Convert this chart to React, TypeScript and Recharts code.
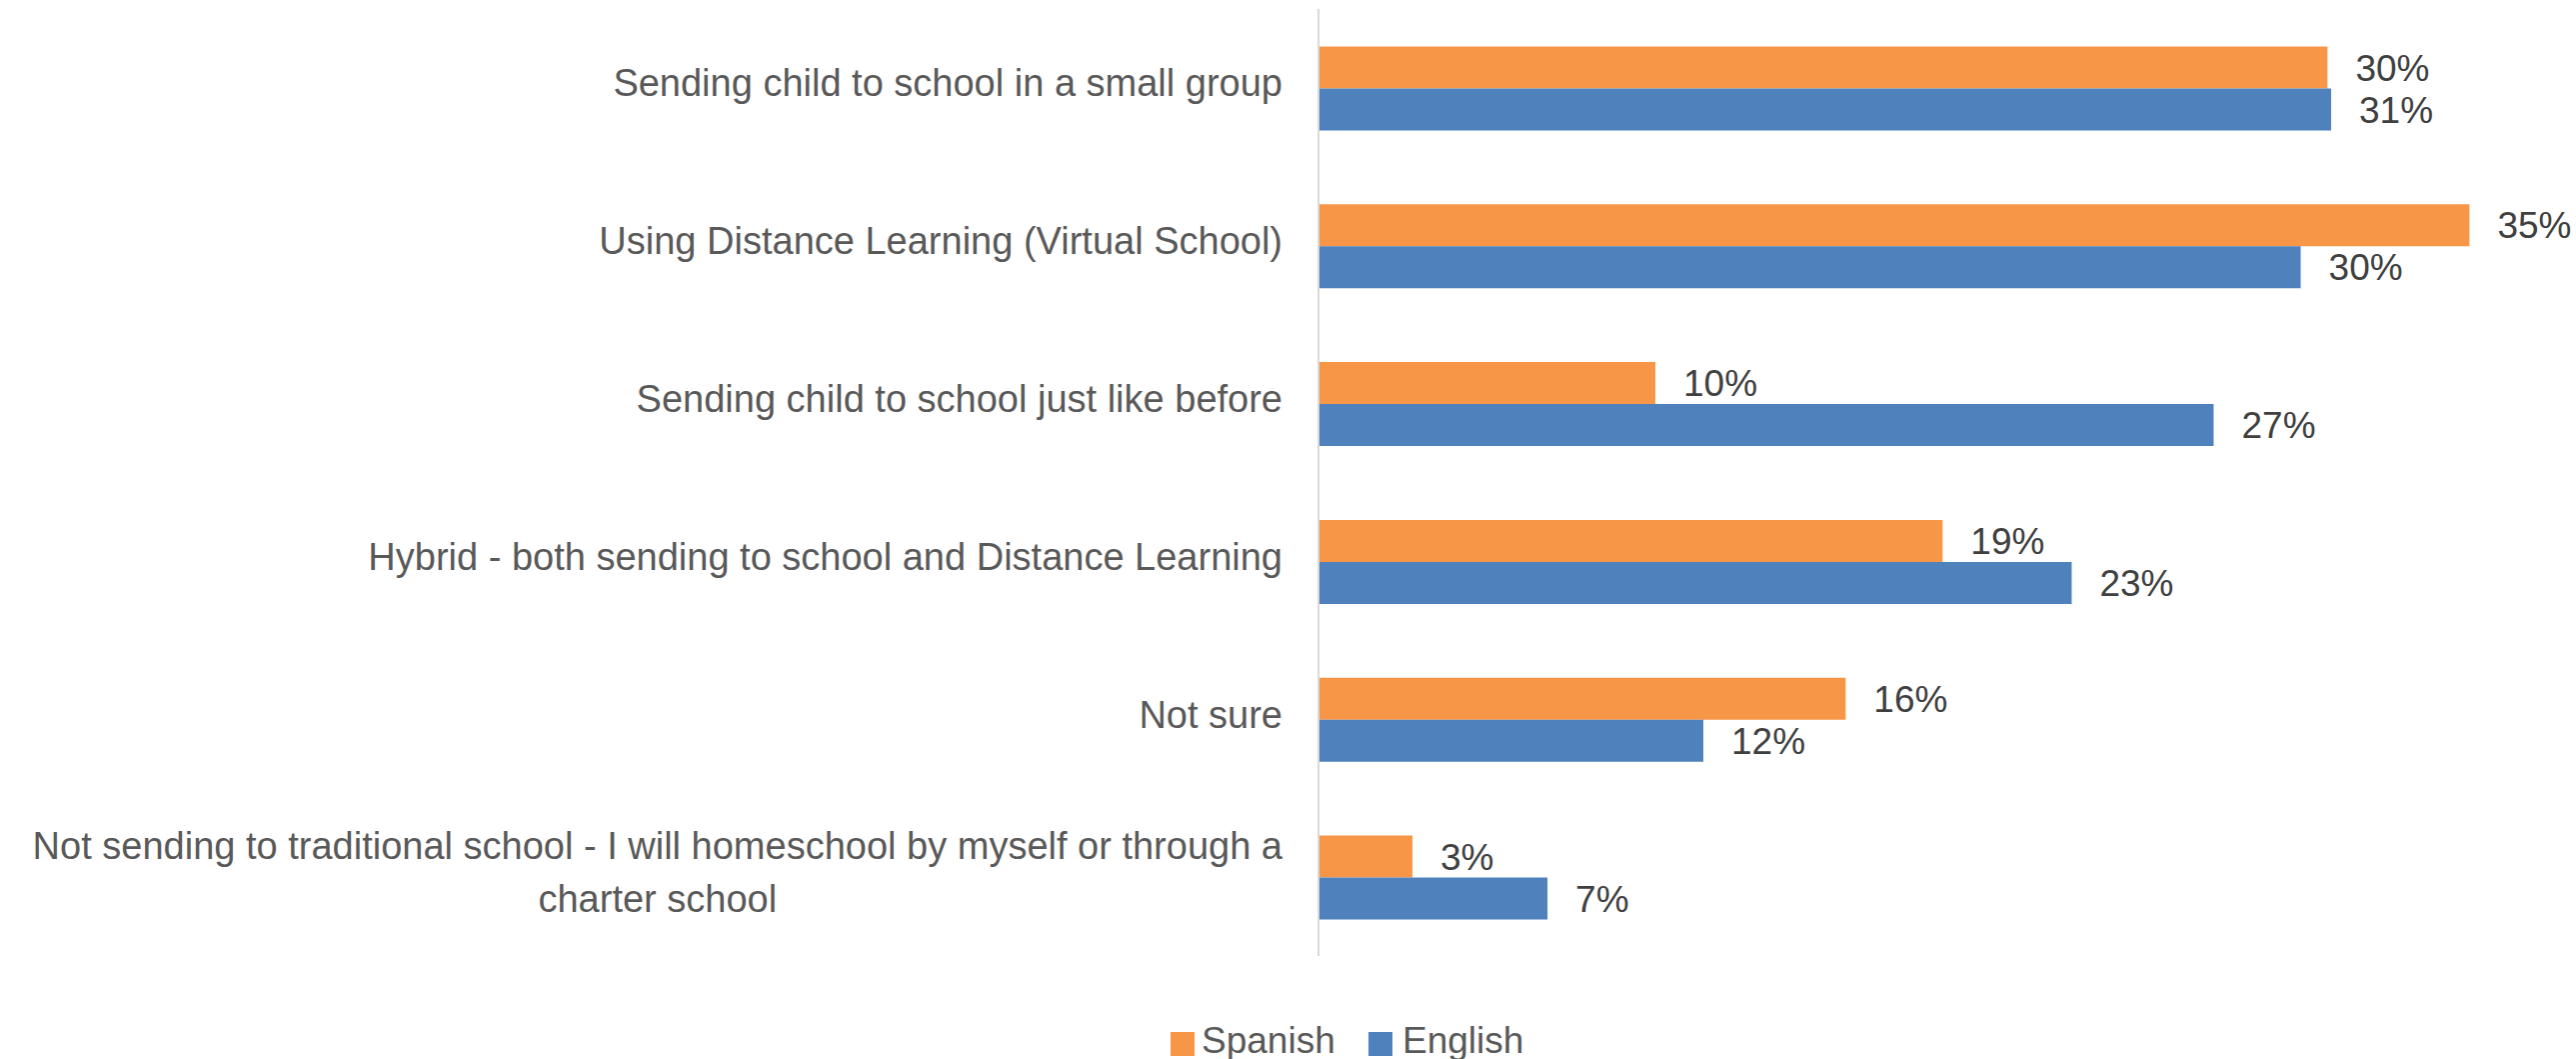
import React from 'react';
import { BarChart, Bar, XAxis, YAxis, Legend, LabelList } from 'recharts';

const categories = [
  'Sending child to school in a small group',
  'Using Distance Learning (Virtual School)',
  'Sending child to school just like before',
  'Hybrid - both sending to school and Distance Learning',
  'Not sure',
  'Not sending to traditional school - I will homeschool by myself or through a charter school',
];
// percentages (labels show rounded values)
const spanish = [30.49, 34.78, 10.18, 18.86, 15.93, 2.84];
const english = [30.6, 29.68, 27.05, 22.76, 11.63, 6.92];
const seriesOrder = ['Spanish', 'English'];
const xDomain = [0, 38];

const FONT = '"Liberation Sans", Arial, sans-serif';
const ORANGE = '#F79646';
const BLUE = '#4F81BD';

const data = categories.map((name, i) => ({ name, Spanish: spanish[i], English: english[i] }));

let ctx: CanvasRenderingContext2D | null = null;
function textWidth(s: string, size: number) {
  if (!ctx) ctx = document.createElement('canvas').getContext('2d');
  if (!ctx) return s.length * size * 0.5;
  ctx.font = `${size}px "Liberation Sans", Arial, sans-serif`;
  return ctx.measureText(s).width;
}

function wrap(s: string, size: number, maxW: number) {
  const words = s.split(' ');
  const lines: string[] = [];
  let cur = '';
  for (const w of words) {
    const next = cur ? cur + ' ' + w : w;
    if (cur && textWidth(next, size) > maxW) {
      lines.push(cur);
      cur = w;
    } else cur = next;
  }
  if (cur) lines.push(cur);
  return lines;
}

function CategoryTick(props: any) {
  const { x, y, payload } = props;
  const size = 38;
  const lh = 53;
  const lines = wrap(String(payload.value), size, 1290);
  const widest = Math.max(...lines.map(l => textWidth(l, size)));
  const cx = x - widest / 2;
  const first = y + 8.5 - ((lines.length - 1) * lh) / 2;
  return (
    <g>
      {lines.map((l, i) => (
        <text
          key={i}
          x={lines.length > 1 ? cx : x}
          y={first + i * lh}
          textAnchor={lines.length > 1 ? 'middle' : 'end'}
          fill="#595959"
          fontSize={size}
          fontFamily={FONT}
        >
          {l}
        </text>
      ))}
    </g>
  );
}

function LegendContent(props: any) {
  const items = [...(props.payload || [])].sort(
    (a: any, b: any) => seriesOrder.indexOf(a.value) - seriesOrder.indexOf(b.value)
  );
  const pos = [
    { rx: 11, tx: 42 },
    { rx: 209, tx: 243 },
  ];
  return (
    <svg width={400} height={60} style={{ overflow: 'visible' }}>
      {items.map((it: any, i: number) => (
        <g key={it.value}>
          <rect x={pos[i].rx} y={22} width={24} height={24} fill={it.color} />
          <text x={pos[i].tx} y={43} fontSize={37} fontFamily={FONT} fill="#595959">
            {it.value}
          </text>
        </g>
      ))}
    </svg>
  );
}

const pct = (v: any) => `${Math.round(Number(v))}%`;

export default function App() {
  return (
    <div style={{ position: 'absolute', left: 0, top: 0, width: 2577, height: 1059, background: '#fff', overflow: 'hidden' }}>
      <BarChart
        width={2577}
        height={1059}
        data={data}
        layout="vertical"
        margin={{ top: 9, right: 0, bottom: 103, left: 0 }}
        barCategoryGap="23.7%"
        barGap={0}
        style={{ fontFamily: FONT }}
      >
        <XAxis type="number" domain={xDomain} hide />
        <YAxis
          type="category"
          dataKey="name"
          width={1319}
          interval={0}
          tickLine={false}
          tickSize={0}
          tickMargin={36}
          axisLine={{ stroke: '#D9D9D9', strokeWidth: 2 }}
          tick={<CategoryTick />}
        />
        <Legend
          layout="horizontal"
          verticalAlign="middle"
          align="center"
          content={<LegendContent />}
          wrapperStyle={{ top: 1010, left: 1160, width: 400, height: 60 }}
        />
        <Bar dataKey="Spanish" fill={ORANGE} isAnimationActive={false}>
          <LabelList dataKey="Spanish" position="right" offset={28} formatter={pct} fill="#404040" fontSize={37} fontFamily={FONT} />
        </Bar>
        <Bar dataKey="English" fill={BLUE} isAnimationActive={false}>
          <LabelList dataKey="English" position="right" offset={28} formatter={pct} fill="#404040" fontSize={37} fontFamily={FONT} />
        </Bar>
      </BarChart>
    </div>
  );
}
